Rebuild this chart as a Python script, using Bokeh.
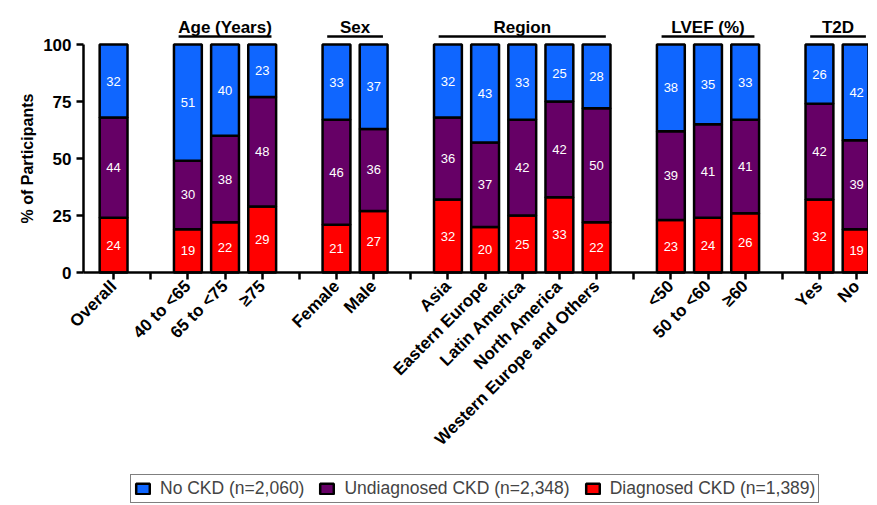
import math
from bokeh.plotting import figure
from bokeh.models import ColumnDataSource, Range1d, FixedTicker, Legend, LegendItem
from bokeh.core.properties import value
from bokeh.embed import file_html
from bokeh.resources import INLINE

# ---- data ----
categories = ["Overall", "", "40 to <65", "65 to <75", "≥75", "", "Female", "Male", "",
              "Asia", "Eastern Europe", "Latin America", "North America",
              "Western Europe and Others", "", "<50", "50 to <60", "≥60", "", "Yes", "No"]
groups = ["", "", "Age (Years)", "Age (Years)", "Age (Years)", "", "Sex", "Sex", "",
          "Region", "Region", "Region", "Region", "Region", "",
          "LVEF (%)", "LVEF (%)", "LVEF (%)", "", "T2D", "T2D"]
diagnosed = [24, 19, 22, 29, 21, 27, 32, 20, 25, 33, 22, 23, 24, 26, 32, 19]
undiagnosed = [44, 30, 38, 48, 46, 36, 36, 37, 42, 42, 50, 39, 41, 41, 42, 39]
no_ckd = [32, 51, 40, 23, 33, 37, 32, 43, 33, 25, 28, 38, 35, 33, 26, 42]
y_ticks = [0, 25, 50, 75, 100]
y_title = "% of Participants"
series_names = ["No CKD (n=2,060)", "Undiagnosed CKD (n=2,348)", "Diagnosed CKD (n=1,389)"]
colors = {"no": "#0F66FF", "und": "#660066", "diag": "#FF0000"}

FONT = "Liberation Sans"

xs = [i for i, c in enumerate(categories) if c]
src = ColumnDataSource(dict(x=xs, diag=diagnosed, und=undiagnosed, no=no_ckd))

X0, X1 = -3.044, 20.32     # full-canvas frame; axes sit at x=-0.81 / y=0 inside it
AXIS_X = -0.81
p = figure(frame_width=868, frame_height=496,
           x_range=Range1d(X0, X1), y_range=Range1d(-101.75, 115.8),
           output_backend="svg", toolbar_location=None,
           min_border_left=0, min_border_right=0, min_border_top=8, min_border_bottom=0)
p.outline_line_color = None
p.xgrid.visible = False
p.ygrid.visible = False

rs = p.vbar_stack(["diag", "und", "no"], x="x", width=0.75, source=src,
                  fill_color=[colors["diag"], colors["und"], colors["no"]],
                  line_color="black", line_width=2.5)

# segment value labels
lx, ly, lt = [], [], []
for x, d, u, n in zip(xs, diagnosed, undiagnosed, no_ckd):
    for base, h in ((0, d), (d, u), (d + u, n)):
        lx.append(x)
        ly.append(base + h / 2)
        lt.append(str(h))
p.text(x=lx, y=ly, text=lt, text_align="center", text_baseline="middle",
       text_color="white", text_font=value(FONT), text_font_size="13px")

# group headers
gnames, gx0, gx1, gxc = [], [], [], []
for g in dict.fromkeys(x for x in groups if x):
    idx = [i for i, gg in enumerate(groups) if gg == g]
    gnames.append(g)
    gx0.append(min(idx) - 0.25)
    gx1.append(max(idx) + 0.25)
    gxc.append((min(idx) + max(idx)) / 2)
p.segment(x0=gx0, x1=gx1, y0=[103.5] * len(gx0), y1=[103.5] * len(gx0),
          line_color="black", line_width=2.5)
p.text(x=gxc, y=[107.6] * len(gxc), text=gnames, text_align="center",
       text_baseline="alphabetic", text_color="black", text_font=value(FONT),
       text_font_size="17px", text_font_style="bold")

# axes
xa = p.xaxis[0]
xa.fixed_location = 0
xa.bounds = (AXIS_X, X1)
xa.ticker = FixedTicker(ticks=list(range(len(categories))))
xa.major_label_overrides = {i: c for i, c in enumerate(categories)}
xa.major_label_orientation = math.pi / 4
xa.minor_tick_line_color = None
xa.major_tick_in = 0
xa.major_tick_out = 7
xa.major_tick_line_width = 2.5
xa.axis_line_width = 2.5
xa.major_label_text_font = FONT
xa.major_label_text_font_style = "bold"
xa.major_label_text_font_size = "17px"
xa.major_label_text_color = "black"
xa.major_label_standoff = 4

ya = p.yaxis[0]
ya.fixed_location = AXIS_X
ya.ticker = FixedTicker(ticks=y_ticks)
ya.bounds = (0, 100)
ya.minor_tick_line_color = None
ya.major_tick_in = 0
ya.major_tick_out = 7
ya.major_tick_line_width = 2.5
ya.axis_line_width = 2.5
ya.major_label_text_font = FONT
ya.major_label_text_font_style = "bold"
ya.major_label_text_font_size = "17px"
ya.major_label_text_color = "black"

# y-axis title, centred on the 0-100 span
p.text(x=[X0 + 0.73], y=[(y_ticks[0] + y_ticks[-1]) / 2], text=[y_title], angle=math.pi / 2,
       text_align="center", text_baseline="middle", text_color="black",
       text_font=value(FONT), text_font_style="bold", text_font_size="16px")

legend = Legend(items=[LegendItem(label=series_names[0], renderers=[rs[2]]),
                       LegendItem(label=series_names[1], renderers=[rs[1]]),
                       LegendItem(label=series_names[2], renderers=[rs[0]])],
                orientation="horizontal", location=(130, 1),
                border_line_color="black", border_line_width=1.5,
                padding=3, spacing=14, label_standoff=9, glyph_width=17, glyph_height=13,
                label_text_font=FONT, label_text_font_size="17.5px", label_height=16,
                margin=0)
p.add_layout(legend, "center")

open("out.html", "w").write(file_html(p, INLINE))
